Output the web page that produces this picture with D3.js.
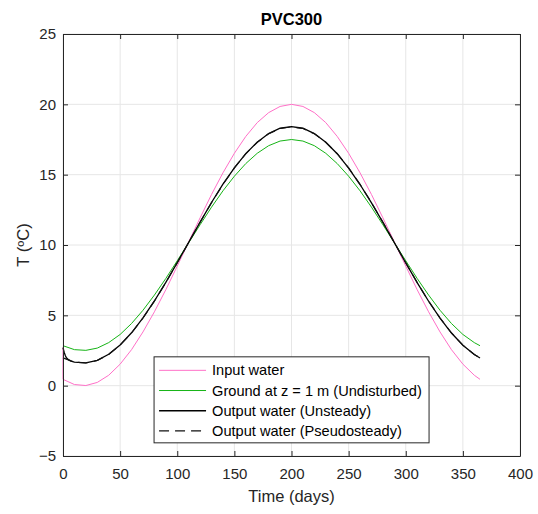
<!DOCTYPE html>
<html>
<head>
<meta charset="utf-8">
<script src="https://cdn.jsdelivr.net/npm/d3@7"></script>
<style>
  body { margin: 0; background: #fff; }
</style>
</head>
<body>
<div id="chart"></div>
<script>
// sampled days (shared by most series)
const days = [0, 10, 20, 30, 40, 50, 60, 70, 80, 90, 100, 110, 120, 130, 140, 150, 160, 170, 180, 190, 200,
    210, 220, 230, 240, 250, 260, 270, 280, 290, 300, 310, 320, 330, 340, 350, 360, 365];

// input water starts at the initial value, then jumps to the inlet curve
const inputDays = [0].concat(days);
const inputWater = [2.70, 0.45, 0.08, 0.01, 0.23, 0.74, 1.53, 2.56, 3.82, 5.25, 6.82, 8.50, 10.22, 11.93, 13.59, 15.13,
    16.52, 17.72, 18.70, 19.41, 19.85, 20.00, 19.85, 19.41, 18.70, 17.72, 16.52, 15.13, 13.59, 11.93, 10.22, 8.50,
    6.82, 5.25, 3.82, 2.56, 1.53, 0.74, 0.45];

const groundTemp = [2.84, 2.56, 2.51, 2.67, 3.06, 3.64, 4.42, 5.36, 6.44, 7.62, 8.88, 10.16, 11.44, 12.69, 13.85, 14.89,
    15.79, 16.52, 17.06, 17.39, 17.50, 17.39, 17.06, 16.52, 15.79, 14.89, 13.85, 12.69, 11.44, 10.16, 8.88, 7.62,
    6.44, 5.36, 4.42, 3.64, 3.06, 2.84];

// unsteady output has a short start transient
const unsteadyDays = [0, 1, 2, 3, 5, 7].concat(days.slice(1));
const outputUnsteady = [2.70, 2.38, 2.14, 1.98, 1.83, 1.74, 1.68, 1.62, 1.80, 2.23, 2.89, 3.76, 4.82, 6.02, 7.34, 8.75,
    10.19, 11.63, 13.02, 14.32, 15.49, 16.50, 17.31, 17.92, 18.30, 18.42, 18.30, 17.92, 17.31, 16.49, 15.47, 14.30,
    13.00, 11.61, 10.17, 8.73, 7.32, 6.00, 4.80, 3.74, 2.87, 2.21, 1.97];

const outputPseudo = [1.98, 1.67, 1.61, 1.79, 2.22, 2.88, 3.75, 4.81, 6.01, 7.33, 8.74, 10.18, 11.62, 13.01, 14.31, 15.48,
    16.49, 17.30, 17.91, 18.28, 18.40, 18.28, 17.91, 17.30, 16.49, 15.48, 14.31, 13.01, 11.62, 10.18, 8.74, 7.33,
    6.01, 4.81, 3.75, 2.88, 2.22, 1.98];

const xTicks = [0, 50, 100, 150, 200, 250, 300, 350, 400];
const yTicks = [-5, 0, 5, 10, 15, 20, 25];

const seriesNames = ["Input water", "Ground at z = 1 m (Undisturbed)", "Output water (Unsteady)", "Output water (Pseudosteady)"];

const series = [
    { name: seriesNames[0], x: inputDays, y: inputWater, color: "#ff70c8", width: 1, dash: null },
    { name: seriesNames[1], x: days, y: groundTemp, color: "#16b416", width: 1, dash: null },
    { name: seriesNames[2], x: unsteadyDays, y: outputUnsteady, color: "#000", width: 1.3, dash: null },
    { name: seriesNames[3], x: days, y: outputPseudo, color: "#111", width: 1.2, dash: "10,6" }
];

const width = 538;
const height = 514;
const marginTop = 34;
const marginRight = 18;
const marginBottom = 58;
const marginLeft = 63;
const font = "'Liberation Sans', Arial, Helvetica, sans-serif";
const axisColor = "#262626";

const x = d3.scaleLinear()
    .domain([0, 400])
    .range([marginLeft, width - marginRight]);

const y = d3.scaleLinear()
    .domain([-5, 25])
    .range([height - marginBottom, marginTop]);

const svg = d3.select("#chart").append("svg")
    .attr("width", width)
    .attr("height", height)
    .attr("viewBox", [0, 0, width, height])
    .style("font-family", font);

// grid
svg.append("g")
    .selectAll("line")
    .data(xTicks)
    .join("line")
    .attr("x1", d => x(d)).attr("x2", d => x(d))
    .attr("y1", marginTop).attr("y2", height - marginBottom)
    .attr("stroke", "#e6e6e6");

svg.append("g")
    .selectAll("line")
    .data(yTicks)
    .join("line")
    .attr("y1", d => y(d)).attr("y2", d => y(d))
    .attr("x1", marginLeft).attr("x2", width - marginRight)
    .attr("stroke", "#e6e6e6");

// lines
const line = (xs, ys) => d3.line()
    .x(i => x(xs[i]))
    .y(i => y(ys[i]))(d3.range(xs.length));

svg.append("g")
    .attr("fill", "none")
    .selectAll("path")
    .data(series)
    .join("path")
    .attr("stroke", d => d.color)
    .attr("stroke-width", d => d.width)
    .attr("stroke-dasharray", d => d.dash)
    .attr("d", d => line(d.x, d.y));

// axes, ticks pointing inward
function styleAxis(g) {
    g.select(".domain").attr("stroke", axisColor);
    g.selectAll(".tick line").attr("stroke", axisColor);
    g.selectAll(".tick text").attr("fill", "#262626").style("font-size", "15px").style("font-family", font);
}

svg.append("g")
    .attr("transform", `translate(0,${height - marginBottom})`)
    .call(d3.axisBottom(x).tickValues(xTicks).tickSize(-5).tickSizeOuter(0).tickPadding(12))
    .call(styleAxis);

svg.append("g")
    .attr("transform", `translate(${marginLeft},0)`)
    .call(d3.axisLeft(y).tickValues(yTicks).tickSize(-5).tickSizeOuter(0).tickPadding(7))
    .call(styleAxis);

svg.append("g")
    .attr("transform", `translate(0,${marginTop})`)
    .call(d3.axisTop(x).tickValues(xTicks).tickSize(-5).tickSizeOuter(0).tickFormat(""))
    .call(styleAxis);

svg.append("g")
    .attr("transform", `translate(${width - marginRight},0)`)
    .call(d3.axisRight(y).tickValues(yTicks).tickSize(-5).tickSizeOuter(0).tickFormat(""))
    .call(styleAxis);

// title and axis labels
svg.append("text")
    .attr("x", (marginLeft + width - marginRight) / 2)
    .attr("y", 25)
    .attr("text-anchor", "middle")
    .attr("font-weight", "bold")
    .style("font-size", "16.5px")
    .text("PVC300");

svg.append("text")
    .attr("x", (marginLeft + width - marginRight) / 2)
    .attr("y", 502)
    .attr("text-anchor", "middle")
    .attr("fill", "#262626")
    .style("font-size", "16.5px")
    .text("Time (days)");

svg.append("text")
    .attr("transform", `translate(29,${(marginTop + height - marginBottom) / 2}) rotate(-90)`)
    .attr("text-anchor", "middle")
    .attr("fill", "#262626")
    .style("font-size", "16.5px")
    .text("T (ºC)");

// legend
const legend = svg.append("g")
    .attr("transform", `translate(${x(79.7)},${y(2.05)})`);

legend.append("rect")
    .attr("width", 275)
    .attr("height", 86)
    .attr("fill", "#fff")
    .attr("stroke", axisColor);

const legends = legend.selectAll(".legend")
    .data(series)
    .join("g")
    .attr("class", "legend")
    .attr("transform", (d, i) => `translate(0,${13.5 + i * 20.2})`);

legends.append("line")
    .attr("x1", 5)
    .attr("x2", 52)
    .attr("stroke", d => d.color)
    .attr("stroke-width", d => d.width)
    .attr("stroke-dasharray", d => d.dash);

legends.append("text")
    .attr("x", 58)
    .attr("dy", "0.35em")
    .style("font-size", "14.6px")
    .text(d => d.name);
</script>
</body>
</html>
